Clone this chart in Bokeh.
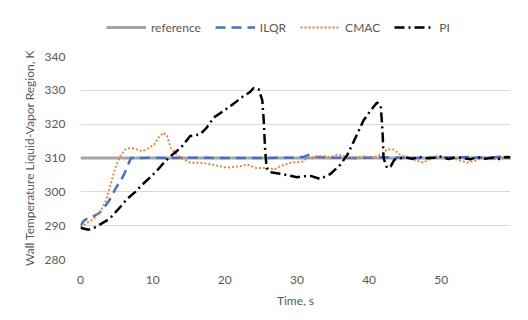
from bokeh.plotting import figure
from bokeh.layouts import column
from bokeh.models import Range1d, Legend, LegendItem, FixedTicker
from bokeh.embed import file_html
from bokeh.resources import INLINE

# reference
ref_t = [0, 59.6]
ref_y = [310, 310]

# ILQR
ilqr_t = [0, 0.5, 1, 1.5, 2, 2.5, 3, 3.5, 4, 4.5, 5, 5.5, 6, 6.5, 7, 8, 10, 12, 15, 20, 25, 30,
          31, 31.6, 32.5, 34, 38, 42, 46, 50, 54, 56, 58, 59.5]
ilqr_y = [290, 291.5, 292.2, 292.6, 293, 293.6, 294.5, 296, 297.5, 299.5, 301.5, 303, 305, 307.5,
          310, 310, 310.1, 310, 310.1, 310, 310, 310.1, 310.4, 310.9, 310.4, 310.1, 310, 310.2,
          310, 310.1, 310.3, 310, 310.4, 310.2]

# CMAC
cmac_t = [0, 0.7, 1.8, 2.8, 3.5, 4.2, 4.8, 5.5, 6.2, 6.9, 7.6, 8.5, 9.2, 10.2, 10.8, 11.5, 12,
          12.5, 13.4, 14.3, 15.2, 16.6, 18, 20.3, 22.2, 23.1, 24.4, 25.9, 26.8, 27.7, 29.1, 30.9,
          31.4, 32.5, 33.7, 34.5, 35.6, 36.5, 37.4, 38.3, 39.2, 40.2, 41.1, 41.8, 42.5, 43.4,
          44.3, 45.7, 46.5, 47.5, 48.5, 49.4, 50.3, 51.2, 52.4, 53.6, 54.7, 55.8, 56.8, 57.7,
          58.8, 59.6]
cmac_y = [289.5, 290.5, 292, 294.3, 297.3, 302.3, 307, 310.5, 312.5, 313, 312.7, 312, 312.6, 314,
          316, 317.5, 316.5, 313, 310.8, 309.7, 308.6, 308.6, 308.2, 307.1, 307.6, 308.1, 307,
          307.1, 306.6, 307.6, 308.6, 309, 310, 310.2, 310.6, 310.3, 311, 310.6, 310, 310.3,
          310.5, 310.2, 310.5, 311.3, 312.6, 312.5, 311, 309.7, 309.3, 308.6, 309.8, 310.6,
          310.2, 310, 309.4, 308.6, 309.2, 310, 309.6, 309.7, 309.9, 309.7]

# PI
pi_t = [0, 1.1, 2, 2.9, 4, 5.3, 6.5, 7.6, 8.5, 9.5, 10.5, 11.3, 12.2, 13.2, 13.9, 15.2, 16.6,
        17.5, 18.5, 19.9, 21.2, 22.6, 23.5, 24, 24.7, 25.2, 25.4, 25.6, 25.8, 26.3, 28.1, 30,
        31, 31.9, 33.2, 34.6, 36, 37, 37.9, 39.2, 40.2, 41.1, 41.6, 41.8, 41.9, 42, 42.5, 43,
        43.5, 44, 45, 46, 47, 48, 49, 50, 51, 52, 53, 54, 55, 56, 57, 58, 59, 59.6]
pi_y = [289.4, 288.8, 289.5, 290.6, 292, 295, 298, 300, 302, 304, 306, 308, 310, 311.8, 313,
        316.5, 317, 319, 322, 324, 326, 328.3, 329.5, 330.7, 330.3, 327, 321, 312, 307, 305.8,
        305.2, 304.3, 304.6, 304.7, 303.8, 305.2, 308, 311, 315, 321, 324, 326.4, 325.6, 320,
        316, 310, 307, 307.5, 309.5, 309.8, 310.2, 309.8, 310.3, 309.9, 310.1, 310.4, 309.7,
        310.2, 310, 309.6, 310.3, 309.8, 310.1, 309.7, 310.3, 310.2]

series_names = ["reference", "ILQR", "CMAC", "PI"]
x_ticks = [0, 10, 20, 30, 40, 50]
y_ticks = [280, 290, 300, 310, 320, 330, 340]

FONT = "Lato"
GREY = "#595959"
STYLES = [
    dict(line_color="#A5A5A5", line_width=3),
    dict(line_color="#4472C4", line_width=2.5, line_dash="10 6"),
    dict(line_color="#ED7D31", line_width=1.8, line_dash="2 2"),
    dict(line_color="black", line_width=2.5, line_dash="10 4 2 4"),
]
SERIES = [(ref_t, ref_y), (ilqr_t, ilqr_y), (cmac_t, cmac_y), (pi_t, pi_y)]

# main chart
p = figure(width=528, height=280, output_backend="svg", toolbar_location=None,
           x_range=Range1d(0, 59.6), y_range=Range1d(280, 340),
           min_border_left=80, min_border_right=18, min_border_top=16, min_border_bottom=61)
p.outline_line_color = None

for (tx, ty), st in zip(SERIES, STYLES):
    p.line(tx, ty, **st)

p.xgrid.grid_line_color = None
p.ygrid.grid_line_color = "#D9D9D9"
p.ygrid.grid_line_width = 1

p.xaxis.ticker = FixedTicker(ticks=x_ticks)
p.yaxis.ticker = FixedTicker(ticks=y_ticks)
for ax in (p.xaxis, p.yaxis):
    ax.axis_line_color = None
    ax.major_tick_line_color = None
    ax.minor_tick_line_color = None
    ax.major_label_text_font = FONT
    ax.major_label_text_font_size = "12px"
    ax.major_label_text_color = GREY
    ax.axis_label_text_font = FONT
    ax.axis_label_text_font_size = "12px"
    ax.axis_label_text_color = GREY
    ax.axis_label_text_font_style = "normal"
p.xaxis.axis_label = "Time, s"
p.yaxis.axis_label = "Wall Temperature Liquid-Vapor Region, K"
p.xaxis.major_label_standoff = 10
p.xaxis.axis_label_standoff = 6
p.yaxis.major_label_standoff = 9
p.yaxis.axis_label_standoff = 5

# legend strip above the chart (its lines fall outside this strip's ranges, only the key shows)
lg = figure(width=528, height=40, output_backend="svg", toolbar_location=None,
            x_range=Range1d(0, 1), y_range=Range1d(0, 1),
            x_axis_location=None, y_axis_location=None, min_border=0)
lg.outline_line_color = None
lg.xgrid.grid_line_color = None
lg.ygrid.grid_line_color = None
items = []
for name, (tx, ty), st in zip(series_names, SERIES, STYLES):
    r = lg.line(tx, ty, **st)
    items.append(LegendItem(label=name, renderers=[r]))

legend = Legend(items=items, orientation="horizontal", location=(26, 5))
legend.label_text_font = FONT
legend.label_text_font_size = "12px"
legend.label_text_color = GREY
legend.glyph_width = 40
legend.glyph_height = 16
legend.label_standoff = 5
legend.spacing = 14
legend.padding = 0
legend.margin = 0
legend.border_line_color = None
legend.background_fill_alpha = 0
lg.add_layout(legend)

layout = column(lg, p, spacing=0)
open("out.html", "w").write(file_html(layout, INLINE))
